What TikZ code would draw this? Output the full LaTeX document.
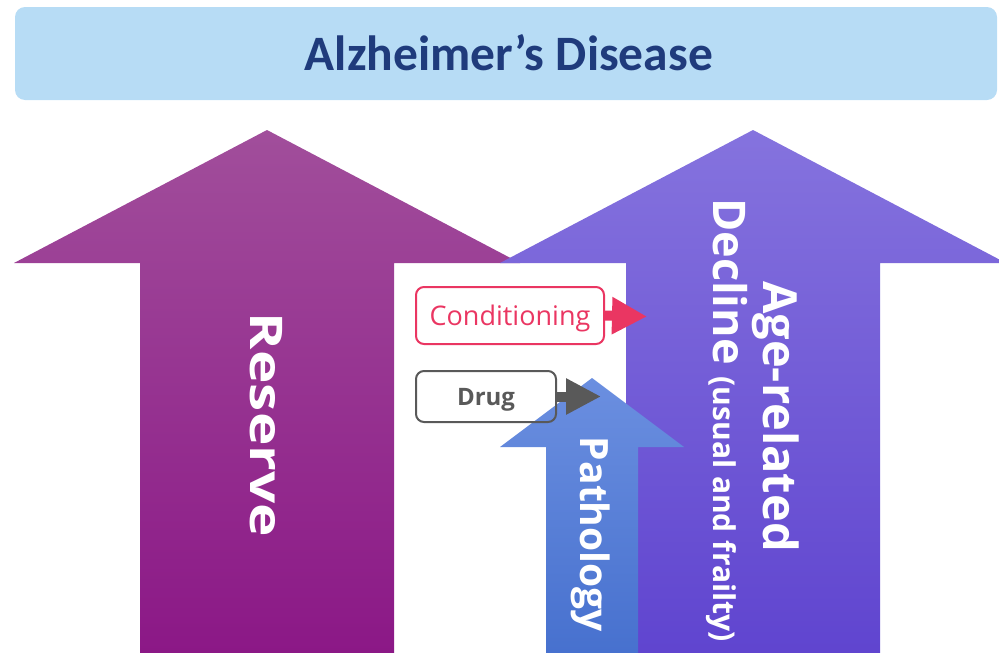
\documentclass[tikz,border=0pt]{standalone}
\usepackage{fontspec}
\setmainfont{Open Sans}
\newfontfamily\titlefont{Carlito}
\usetikzlibrary{arrows.meta}
\definecolor{titlefill}{HTML}{B7DCF5}
\definecolor{titleink}{HTML}{1F3B7C}
\definecolor{reservetop}{HTML}{A14E9B}
\definecolor{reservebot}{HTML}{8B1786}
\definecolor{agetop}{HTML}{8573DE}
\definecolor{agebot}{HTML}{5F44CF}
\definecolor{pathtop}{HTML}{6B8FE0}
\definecolor{pathbot}{HTML}{4670CE}
\definecolor{condred}{HTML}{EA3662}
\definecolor{druggray}{HTML}{595959}
\tikzset{
  titlebox/.style={rectangle, rounded corners=10pt, fill=titlefill, inner sep=0pt,
    minimum width=982pt, minimum height=93pt},
  armlabel/.style={text=white, font=\bfseries, rotate=-90, inner sep=0pt},
  factorbox/.style={rectangle, rounded corners=8pt, line width=2pt, inner sep=0pt, text depth=0pt},
  pusharrow/.style={line width=10pt},
}
\begin{document}
\begin{tikzpicture}[x=1pt,y=-1pt]
\useasboundingbox (0,0) rectangle (999,653);

% banner
\node[titlebox] (title) at (506,53.5) {};
\node[text=titleink, font=\titlefont\bfseries\fontsize{49.5}{49.5}\selectfont, inner sep=0pt]
  (titletext) at (509,53) {Alzheimer’s Disease};

% reserve arrow
\shade[top color=reservetop, bottom color=reservebot]
  (267,130) -- (520,263) -- (394,263) -- (394,660) -- (140,660) -- (140,263) -- (14,263) -- cycle;
% age-related decline arrow
\shade[top color=agetop, bottom color=agebot]
  (753,130) -- (1006,263) -- (880,263) -- (880,660) -- (626,660) -- (626,263) -- (500,263) -- cycle;
% pathology arrow
\shade[top color=pathtop, bottom color=pathbot]
  (592,378) -- (684,447) -- (638,447) -- (638,660) -- (546,660) -- (546,447) -- (500,447) -- cycle;

% arrow labels
\node[armlabel, anchor=base] (reserve) at (250,425)
  {\scalebox{1.26}[1]{\fontsize{45}{45}\selectfont Reserve}};
\node[armlabel, anchor=base] (pathology) at (580,534.5)
  {\fontsize{39}{39}\selectfont Pathology};
\node[armlabel, anchor=base] (agerel) at (763,416.5)
  {\fontsize{47}{47}\selectfont Age-related};
\node[armlabel, anchor=base west] (decline) at (713,198)
  {\fontsize{45}{45}\selectfont Decline \fontsize{30}{30}\selectfont(usual and frailty)};

% interventions
\node[factorbox, draw=condred, text=condred, minimum width=188pt, minimum height=57pt,
  font=\fontsize{27}{27}\selectfont, text height=19.5pt] (cond) at (510,315.5) {Conditioning};
\node[factorbox, draw=druggray, text=druggray, minimum width=140pt, minimum height=51pt,
  font=\bfseries\fontsize{24}{24}\selectfont, text height=17pt] (drug) at (486,396.5) {Drug};
\coordinate (condtip) at (647,316.5);
\coordinate (drugtip) at (601,396.5);
\draw[pusharrow, condred, -{Triangle[length=35pt,width=35pt]}] (cond.east) -- (condtip);
\draw[pusharrow, druggray, -{Triangle[length=35pt,width=34pt]}] (drug.east) -- (drugtip);
\end{tikzpicture}
\end{document}
